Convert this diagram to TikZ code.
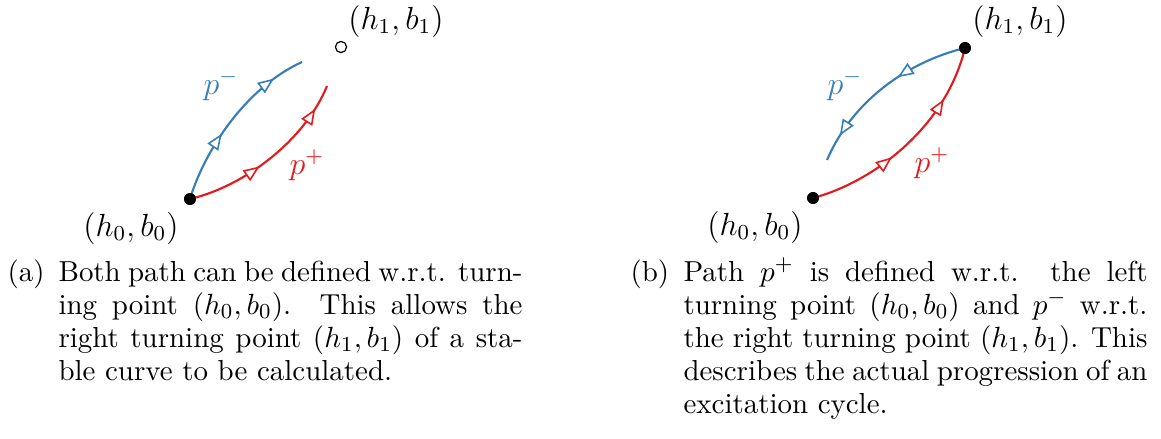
\documentclass[tikz,border=0pt]{standalone}
\usetikzlibrary{arrows.meta,decorations.markings}
\definecolor{cblue}{RGB}{55,126,184}
\definecolor{cred}{RGB}{228,26,28}
\tikzset{
  curve/.style={line width=0.8pt},
  marks/.style 2 args={postaction={decorate,decoration={markings,
      mark=at position #1 with {\arrow{Triangle[open,length=6pt,width=4.8pt,line width=0.6pt,fill=white]}},
      mark=at position #2 with {\arrow{Triangle[open,length=6pt,width=4.8pt,line width=0.6pt,fill=white]}}}}},
  dot/.style={circle,fill=black,inner sep=0pt,minimum size=4.4pt},
  odot/.style={circle,draw=black,fill=white,line width=0.45pt,inner sep=0pt,minimum size=4.2pt},
  ptlabel/.style={font=\fontsize{12}{14}\selectfont,inner sep=0pt},
  captxt/.style={anchor=base west,inner sep=0pt,font=\fontsize{10.85}{12.4}\selectfont},
}
\begin{document}
\begin{tikzpicture}[x=0.375pt,y=-0.375pt]
\useasboundingbox (0,0) rectangle (1161,439);
% ---------- panel (a)
\node[dot] (a0) at (190,199) {};
\node[odot] (a1) at (341,47) {};
\coordinate (aBend) at (302,62);
\coordinate (aRend) at (327,86);
\draw[curve,cblue,marks={0.40}{0.82}] (a0.center) .. controls (204,152) and (245,88) .. (aBend);
\draw[curve,cred,marks={0.42}{0.86}] (a0.center) .. controls (245,186) and (305,140) .. (aRend);
\node[dot] at (a0) {};
\node[ptlabel] (a1l) at (396,21) {$(h_1,b_1)$};
\node[ptlabel] (a0l) at (131,228) {$(h_0,b_0)$};
\node[ptlabel,text=cblue] (apm) at (221,85) {$p^-$};
\node[ptlabel,text=cred] (app) at (307,165) {$p^+$};
% ---------- panel (b)
\node[dot] (b0) at (813,198) {};
\node[dot] (b1) at (965,48) {};
\coordinate (bBend) at (827,160);
\draw[curve,cred,marks={0.40}{0.75}] (b0.center) .. controls (870,183) and (945,130) .. (b1.center);
\draw[curve,cblue,marks={0.40}{0.85}] (b1.center) .. controls (915,60) and (855,95) .. (bBend);
\node[dot] at (b0) {};
\node[dot] at (b1) {};
\node[ptlabel] (b1l) at (1020,21) {$(h_1,b_1)$};
\node[ptlabel] (b0l) at (755,227) {$(h_0,b_0)$};
\node[ptlabel,text=cblue] (bpm) at (845,85) {$p^-$};
\node[ptlabel,text=cred] (bpp) at (932,163) {$p^+$};
% ---------- captions
\node[captxt] (capal) at (7,281) {(a)};
\node[captxt] (capa) at (58,281) {\parbox[t]{174pt}{Both path can be defined w.r.t. turn-\linebreak ing point $(h_0,b_0)$. This allows the right turning point $(h_1,b_1)$ of a sta-\linebreak ble curve to be calculated.}};
\node[captxt] (capbl) at (630,281) {(b)};
\node[captxt] (capb) at (683,281) {\parbox[t]{174pt}{Path $p^+$ is defined w.r.t. the left\linebreak turning point $(h_0,b_0)$ and $p^-$ w.r.t.\linebreak the right turning point $(h_1,b_1)$. This\linebreak describes the actual progression of an\linebreak excitation cycle.}};
\end{tikzpicture}
\end{document}
